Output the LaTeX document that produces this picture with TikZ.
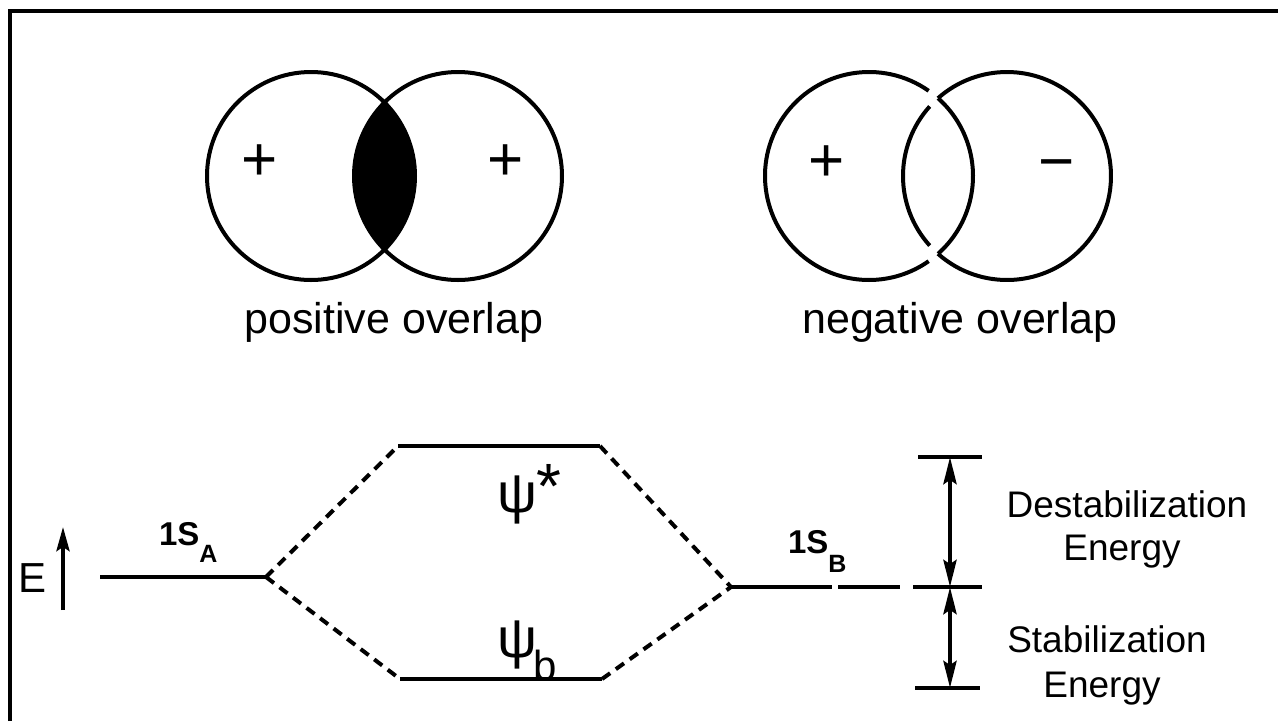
\documentclass[tikz,border=0pt]{standalone}
\usepackage{fontspec}
\setmainfont{Liberation Sans}
\usetikzlibrary{arrows.meta}

\newcommand{\fsz}[1]{\fontsize{#1}{#1}\selectfont}

\begin{document}
\begin{tikzpicture}[
  x=1pt, y=-1pt,
  every node/.style={inner sep=0pt, outer sep=0pt},
  orb/.style={line width=4pt},
  level/.style={line width=4.2pt},
  link/.style={line width=4pt, dash pattern=on 10pt off 7pt},
  gtip/.tip={Stealth[length=27pt, width=13pt, inset=4pt]},
  etip/.tip={Stealth[length=24pt, width=13pt, inset=4pt]},
  gauge/.style={line width=4.2pt, gtip-gtip},
  sign/.style={font=\fsz{62}, anchor=base},
  caption/.style={font=\fsz{43}, anchor=base},
  elabel/.style={font=\fsz{37}, anchor=base},
  orblbl/.style={anchor=base west, font=\bfseries}
]
\useasboundingbox (0,0) rectangle (1278,721);
\draw[line width=4pt] (10,721) -- (10,11) -- (1278,11);

\coordinate (pA) at (311,176);
\coordinate (pB) at (458,176);
\begin{scope}
  \clip (pA) circle (104pt);
  \fill (pB) circle (104pt);
\end{scope}
\draw[orb] (pA) circle (104pt) (pB) circle (104pt);
\node[sign] (pAsign) at (260,180) {+};
\node[sign] (pBsign) at (506,180) {+};
\node[caption] (poslbl) at (394,333) {positive overlap};

\coordinate (nA) at (869,176);
\coordinate (nB) at (1007,176);
\draw[orb] (nA) ++(-48.4:104pt) arc[start angle=-48.4, end angle=48.4, radius=104pt];
\draw[orb] (nA) ++(55:104pt) arc[start angle=55, end angle=305, radius=104pt];
\draw[orb] (nB) ++(-131.6:104pt) arc[start angle=-131.6, end angle=131.6, radius=104pt];
\draw[orb] (nB) ++(138:104pt) arc[start angle=138, end angle=222, radius=104pt];
\node[sign] (nAsign) at (827,181) {+};
\node[sign] (nBsign) at (1057,182) {−};
\node[caption] (neglbl) at (960,333) {negative overlap};

\node[anchor=base west, font=\fsz{42}] (elbl) at (19,592) {E};
\coordinate (eB) at (63,610);
\coordinate (eT) at (63,527);
\draw[line width=4pt, -etip] (eB) -- (eT);

\coordinate (sA1) at (100,577);
\coordinate (sA2) at (266,577);
\coordinate (ps1) at (398,446);
\coordinate (ps2) at (600,446);
\coordinate (pb1) at (400,679);
\coordinate (pb2) at (602,679);
\coordinate (sB1) at (731,587);
\coordinate (sB2) at (900,587);
\draw[level] (sA1) -- (sA2);
\draw[level] (ps1) -- (ps2);
\draw[level] (pb1) -- (pb2);
\draw[level] (sB1) -- ++(101,0) ++(6,0) -- (sB2);
\draw[link] (sA2) -- (ps1);
\draw[link] (sA2) -- (pb1);
\draw[link] (ps2) -- (sB1);
\draw[link] (pb2) -- (sB1);

\node[orblbl] (sAlbl) at (159,545) {\fsz{33}1S\raisebox{-17pt}{\fsz{25}A}};
\node[orblbl] (sBlbl) at (788,553) {\fsz{33}1S\raisebox{-19pt}{\fsz{25}B}};
\node[anchor=base west] (pslbl) at (497,512) {\fsz{56}ψ\raisebox{4pt}{\fsz{64}*}};
\node[anchor=base west] (pblbl) at (497,657) {\fsz{56}ψ\kern-3pt\raisebox{-23pt}{\fsz{42}b}};

\coordinate (gT) at (950,457);
\coordinate (gM) at (950,587);
\coordinate (gB) at (950,688);
\draw[level] ([xshift=-32pt]gT) -- ([xshift=32pt]gT);
\draw[level] ([xshift=-37pt]gM) -- ([xshift=32pt]gM);
\draw[level] ([xshift=-35pt]gB) -- ([xshift=30pt]gB);
\draw[gauge] (gM) -- (gT);
\draw[gauge] (gM) -- (gB);

\node[elabel] (destab) at (1127,517) {Destabilization};
\node[elabel] (destabE) at (1122,560) {Energy};
\node[elabel] (stab) at (1107,652) {Stabilization};
\node[elabel] (stabE) at (1102,697) {Energy};
\end{tikzpicture}
\end{document}
